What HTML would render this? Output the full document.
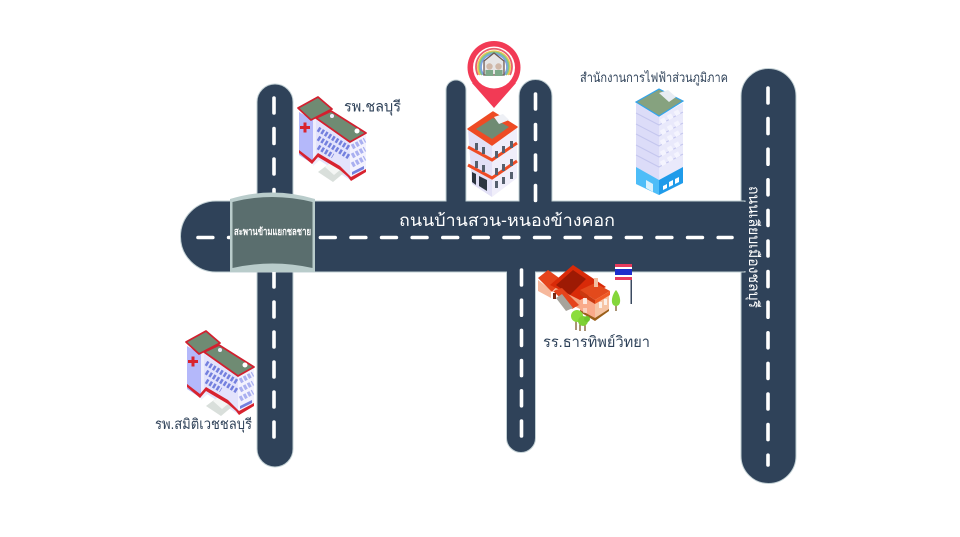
<!DOCTYPE html>
<html><head><meta charset="utf-8"><style>
html,body{margin:0;padding:0;background:#fff;width:960px;height:537px;overflow:hidden}
svg{display:block}
text{font-family:"Liberation Sans","Noto Sans CJK SC",sans-serif}
</style></head><body>
<svg width="960" height="537" viewBox="0 0 960 537" xmlns="http://www.w3.org/2000/svg">
<defs>
<g id="hosp">
  <polygon points="299,112 313,120 313,164 299,155" fill="#b4b8fa"/>
  <polygon points="313,120 331,110 331,150 313,166" fill="#eeeefc"/>
  <polygon points="316,120 350,141 350,180 316,158" fill="#e3e3fc"/>
  <polygon points="350,141 366,133 366,172 350,180" fill="#f3f2fe"/>
  <polygon points="298,108 318,97 332,109 311,120" fill="#6f8b73" stroke="#d2202f" stroke-width="1.800" stroke-linejoin="round"/>
  <polygon points="316,118 331,111 366,133 350,142" fill="#6f8b73" stroke="#d2202f" stroke-width="1.800" stroke-linejoin="round"/>
  <path d="M300 126h3.500v-3.500h3v3.500h3.500v3h-3.500v3.500h-3v-3.500h-3.500z" fill="#d8232f"/>
  <g stroke="#7480de" stroke-width="5" stroke-dasharray="2.500 1.700" fill="none">
    <path d="M318 129 L349 148"/><path d="M318 138 L349 157"/>
    <path d="M318 147 L333 156"/>
  </g>
  <g stroke="#aab0f0" stroke-width="5" stroke-dasharray="3 1.500" fill="none">
    <path d="M352 147 L365 140"/><path d="M352 156 L365 149"/><path d="M352 165 L365 158"/>
  </g>
  <polygon points="318,172 330,163 345,172 333,182" fill="#d9dfdb"/>
  <polygon points="325,167 330,163 340,170 334,175" fill="#f4f6f4"/>
  <path d="M299 153 L312 164 L318 157 L340 170 L348 177 L351 181 L366 172 V169 L351 177 L347 173 L340 166 L318 153 L312 160 L299 150z" fill="#d8232f"/>
  <polygon points="352,175 364,169 364,166 352,172" fill="#7480de"/>
  <circle cx="332" cy="116" r="2" fill="#eef"/><circle cx="357" cy="131" r="2.500" fill="#fff"/>
</g>
</defs>
<rect width="960" height="537" fill="#fff"/>

<g fill="#2f4259" stroke="#c2d0d4" stroke-width="1">
  <path d="M257 449 V102 a18 18 0 0 1 36 0 V449 a18 18 0 0 1 -36 0z" />
  <path d="M446 206 V90 a10 10 0 0 1 20 0 V206z"/>
  <path d="M519 206 V96 a16.500 16.500 0 0 1 33 0 V206z"/>
  <path d="M506.500 268 H535.500 V438 a14.500 14.500 0 0 1 -29 0z"/>
  <path d="M741 96 a27.500 27.500 0 0 1 55 0 V456 a27.500 27.500 0 0 1 -55 0z"/>
  <path d="M216 201 H745 V272 H216 a35.500 35.500 0 0 1 0 -71z"/>
</g>
<rect x="742" y="202" width="10" height="69" fill="#2f4259"/>
<rect x="446.500" y="198" width="19" height="8" fill="#2f4259"/>
<rect x="519.500" y="198" width="32" height="8" fill="#2f4259"/>
<rect x="507" y="266" width="28" height="8" fill="#2f4259"/>

<g stroke="#fff" stroke-width="3.600" stroke-linecap="round" fill="none">
  <path d="M198 237.500 H732" stroke-dasharray="14.800 15.800"/>
  <path d="M274 98 V195" stroke-dasharray="15 15.500"/>
  <path d="M274 272 V439" stroke-dasharray="15 15"/>
  <path d="M535.500 94 V201" stroke-dasharray="15 15.500"/>
  <path d="M521.500 270 V438" stroke-dasharray="15 15.200"/>
  <path d="M768 88 V465" stroke-dasharray="15 15.600"/>
</g>

<path d="M230 199 Q272 186 315 199 V272 H230z" fill="#b9cccb"/>
<path d="M232.500 202 Q272 192 312.500 202 V268 Q272 259 232.500 268z" fill="#5a6e6e"/>
<text x="272.500" y="235" font-size="10" font-weight="700" fill="#fff" text-anchor="middle" textLength="77" lengthAdjust="spacingAndGlyphs">สะพานข้ามแยกชลชาย</text>
<text x="507" y="226" font-size="17" fill="#fff" text-anchor="middle" textLength="216" lengthAdjust="spacingAndGlyphs">ถนนบ้านสวน-หนองข้างคอก</text>
<text transform="translate(749,186) rotate(90)" font-size="14.500" fill="#fff" textLength="122" lengthAdjust="spacingAndGlyphs">ถนนเลียบเมืองชลบุรี</text>

<use href="#hosp"/>
<use href="#hosp" transform="translate(-112,234)"/>

<!-- tall red building -->
<polygon points="468,130 492,146 492,197 472,184" fill="#e2e0f6"/>
<polygon points="492,146 517,128 517,178 492,197" fill="#f0eefa"/>
<polygon points="468,129 493,112 517,127 492,145" fill="#ee4b24" stroke="#ee4b24" stroke-width="1.500" stroke-linejoin="round"/>
<polygon points="476,129 493,118 509,127 492,139" fill="#6f8b73"/>
<polygon points="494,117 503,114 509,120 499,124" fill="#eef0f5"/>
<path d="M468 147 L492 160 L517 143 M468 165 L492 178 L517 161" stroke="#ee4b24" stroke-width="3" fill="none"/>
<g fill="#56606e">
  <rect x="475" y="143" width="3" height="7"/><rect x="482" y="147" width="3" height="7"/>
  <rect x="475" y="161" width="3" height="7"/><rect x="482" y="165" width="3" height="7"/>
  <rect x="495" y="151" width="3" height="7"/><rect x="502" y="146" width="3" height="7"/><rect x="510" y="141" width="3" height="7"/>
  <rect x="495" y="168" width="3" height="7"/><rect x="502" y="164" width="3" height="7"/><rect x="510" y="159" width="3" height="7"/>
  <rect x="495" y="181" width="3" height="7"/><rect x="502" y="177" width="3" height="7"/><rect x="510" y="172" width="3" height="7"/>
  <polygon points="472,172 476,174 476,185 472,182" fill="#2c3440"/>
  <polygon points="479,176 487,180 487,191 479,186" fill="#2c3440"/>
</g>

<!-- pin -->
<path d="M494 108 L472 83 L516 83z" fill="#f23a55"/>
<circle cx="494" cy="67.500" r="26.500" fill="#f23a55"/>
<circle cx="494" cy="67.500" r="21" fill="#fff"/>
<g fill="none" stroke-width="1.800">
  <path d="M478 75 A18 18 0 1 1 510 75" stroke="#e8616e"/>
  <path d="M480 75 A16 16 0 1 1 508 75" stroke="#f1c84d"/>
  <path d="M482 75 A14.500 14.500 0 1 1 506 75" stroke="#7fc58e"/>
  <path d="M483.800 75 A13 13 0 1 1 504.200 75" stroke="#7ba3e0"/>
</g>
<path d="M484 61 L494 53 L504 61 V75 H484z" fill="#e7e6e6" stroke="#6e5a53" stroke-width="1.300"/>
<circle cx="489.500" cy="66.500" r="3.200" fill="#d0b8a8"/><circle cx="498.500" cy="66.500" r="3.200" fill="#d0b8a8"/>
<rect x="485.500" y="70" width="7.500" height="6" fill="#7ea98a"/><rect x="495" y="70" width="7.500" height="6" fill="#7ea98a"/>

<!-- office tower -->
<polygon points="636,103 659,116 659,195 636,184" fill="#dcdcf8"/>
<polygon points="659,116 683,103 683,183 659,195" fill="#e9e9fb"/>
<g stroke="#c4c6ee" stroke-width="1" fill="none">
  <path d="M636 113L659 125L683 112M636 124L659 136L683 123M636 134L659 146L683 133M636 145L659 157L683 144M636 155L659 167L683 154"/>
</g>
<g stroke="#f4f4fe" stroke-width="5" fill="none" stroke-dasharray="5 3">
  <path d="M661 122L682 110M661 133L682 121M661 143L682 131M661 154L682 142M661 164L682 152"/>
</g>
<polygon points="636,167 659,180 659,195 636,184" fill="#4dbdf8"/>
<polygon points="659,180 683,167 683,183 659,195" fill="#1f9bea"/>
<polygon points="646,180 653,184 653,192 646,188" fill="#d9f1fd"/>
<polygon points="663,186 667,184 667,188 663,190" fill="#fff"/><polygon points="669,182 673,180 673,185 669,187" fill="#fff"/><polygon points="675,179 679,177 679,182 675,184" fill="#fff"/>
<polygon points="636,102 659,89 683,101 659,116" fill="#86a27f" stroke="#32a4ec" stroke-width="1.200"/>
<polygon points="659,93 668,90 676,97 669,102" fill="#e8ecf3"/>

<!-- school -->
<polygon points="538,280 538,291 551,298 551,290" fill="#f6b89c"/>
<polygon points="551,285 573,268 595,285 580,309 562,300" fill="#f2a37f"/>
<polygon points="580,294 595,302 595,320 580,311" fill="#f9aa8a"/>
<polygon points="595,302 609,293 609,310 595,320" fill="#f6c4a4"/>
<polygon points="580,310 595,318 609,309 609,311 595,321 580,312" fill="#9a5f1a"/>
<polygon points="538,278 548,270 562,280 552,292" fill="#e5431b"/>
<polygon points="550,285 573,265 606,287 580,300" fill="#d92a08"/>
<polygon points="556,285 573,270 586,279 570,295" fill="#9d1a04"/>
<polygon points="553,291 562,288 579,305 572,309" fill="#e5431b"/>
<polygon points="556,298 562,294 573,308 566,311" fill="#a7a39b"/>
<polygon points="580,290 595,283 610,291 595,300" fill="#e34a1c"/>
<polygon points="580,290 595,300 595,304 580,295" fill="#c93910"/>
<polygon points="595,300 610,291 610,295 595,304" fill="#f05a25"/>
<rect x="594" y="278" width="4" height="9" fill="#f2bfa0"/>
<rect x="553" y="293" width="3" height="6" fill="#7b2a15"/>
<g fill="#fff" opacity=".75">
  <rect x="583" y="298" width="4" height="6"/><rect x="583" y="308" width="4" height="5" opacity=".6"/>
  <rect x="599" y="302" width="3" height="6"/><rect x="604" y="299" width="3" height="6"/>
</g>
<g stroke="#7c5a2a" stroke-width="1.300">
  <path d="M576 320V330M580 322V331M585 322V331M616 300V311"/>
</g>
<circle cx="577" cy="316" r="6" fill="#8bdd3d"/><circle cx="583" cy="321" r="5" fill="#7ed034"/><circle cx="587" cy="319" r="3" fill="#6fc62b"/>
<path d="M616 290 C611 296 610 306 616 306 C622 306 621 296 616 290z" fill="#84d63a"/>
<rect x="615" y="264" width="17" height="16" fill="#fff"/>
<rect x="615" y="264" width="17" height="3" fill="#e83a5c"/>
<rect x="615" y="277" width="17" height="3" fill="#e83a5c"/>
<rect x="615" y="269" width="17" height="6" fill="#1e2ecc"/>
<rect x="630.500" y="280" width="1.500" height="24" fill="#3b4a60"/>

<!-- labels -->
<text x="344" y="111.500" font-size="15" fill="#2f4259" textLength="57" lengthAdjust="spacingAndGlyphs">รพ.ชลบุรี</text>
<text x="580" y="82" font-size="13" fill="#2f4259" textLength="148" lengthAdjust="spacingAndGlyphs">สำนักงานการไฟฟ้าส่วนภูมิภาค</text>
<text x="543" y="347" font-size="15" fill="#2f4259" textLength="107" lengthAdjust="spacingAndGlyphs">รร.ธารทิพย์วิทยา</text>
<text x="155" y="429" font-size="14.500" fill="#2f4259" textLength="97" lengthAdjust="spacingAndGlyphs">รพ.สมิติเวชชลบุรี</text>
</svg>
</body></html>
